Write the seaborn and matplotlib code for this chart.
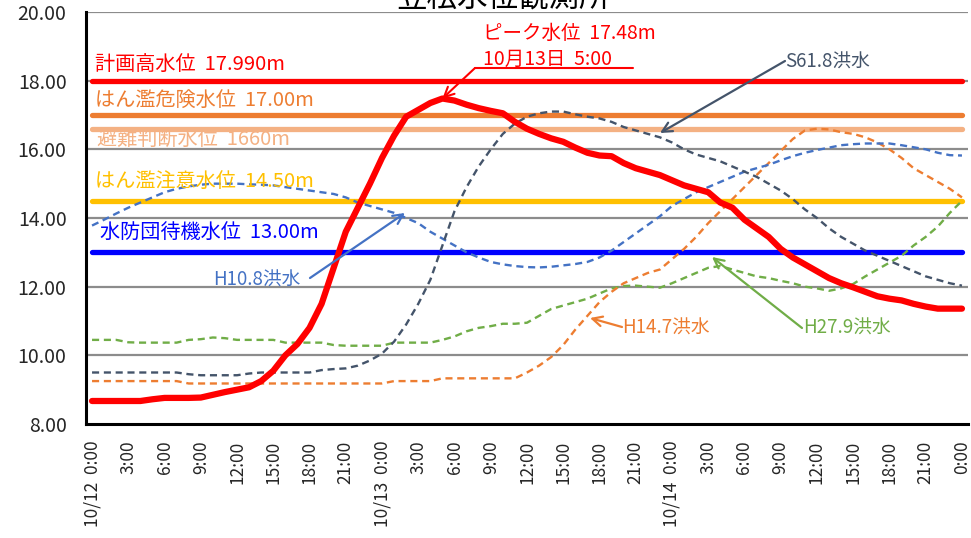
import numpy as np
import pandas as pd
import matplotlib
matplotlib.use("Agg")
import matplotlib.pyplot as plt
import seaborn as sns

# ---------------- data ----------------
hours = list(range(73))  # 10/12 0:00 ... 10/15 0:00, hourly

observed = [8.67, 8.67, 8.67, 8.67, 8.67, 8.72, 8.76, 8.76, 8.76, 8.77,
            8.85, 8.93, 9.00, 9.07, 9.25, 9.55, 10.00, 10.33, 10.80, 11.50,
            12.55, 13.60, 14.30, 15.00, 15.75, 16.40, 16.95, 17.15, 17.35, 17.48,
            17.42, 17.30, 17.20, 17.12, 17.05, 16.80, 16.60, 16.45, 16.32, 16.22,
            16.05, 15.90, 15.82, 15.80, 15.60, 15.45, 15.35, 15.25, 15.10, 14.95,
            14.85, 14.75, 14.45, 14.30, 13.95, 13.70, 13.45, 13.10, 12.85, 12.65,
            12.45, 12.25, 12.10, 11.98, 11.85, 11.72, 11.65, 11.60, 11.50, 11.42,
            11.36, 11.36, 11.36]

s61_8 = [9.50, 9.50, 9.50, 9.50, 9.50, 9.50, 9.50, 9.50, 9.45, 9.42,
         9.42, 9.42, 9.42, 9.47, 9.50, 9.50, 9.50, 9.50, 9.50, 9.57,
         9.60, 9.62, 9.70, 9.85, 10.05, 10.40, 10.90, 11.50, 12.20, 13.20,
         14.20, 14.90, 15.50, 16.00, 16.45, 16.75, 16.95, 17.05, 17.10, 17.10,
         17.02, 16.95, 16.90, 16.80, 16.65, 16.55, 16.45, 16.35, 16.20, 16.00,
         15.85, 15.75, 15.65, 15.50, 15.35, 15.20, 15.00, 14.80, 14.55, 14.25,
         14.00, 13.70, 13.45, 13.25, 13.05, 12.90, 12.75, 12.60, 12.45, 12.30,
         12.20, 12.10, 12.03]

h10_8 = [13.78, 13.95, 14.13, 14.30, 14.45, 14.60, 14.75, 14.85, 14.92, 14.97,
         15.00, 15.00, 15.00, 14.98, 14.97, 14.95, 14.90, 14.85, 14.80, 14.75,
         14.70, 14.60, 14.45, 14.35, 14.25, 14.15, 14.00, 13.85, 13.60, 13.40,
         13.20, 13.00, 12.85, 12.72, 12.65, 12.60, 12.57, 12.56, 12.58, 12.62,
         12.66, 12.72, 12.85, 13.05, 13.30, 13.55, 13.80, 14.05, 14.35, 14.55,
         14.75, 14.90, 15.05, 15.20, 15.35, 15.45, 15.55, 15.68, 15.80, 15.90,
         15.98, 16.05, 16.12, 16.15, 16.17, 16.17, 16.17, 16.12, 16.06, 16.00,
         15.90, 15.83, 15.82]

h14_7 = [9.25, 9.25, 9.25, 9.25, 9.25, 9.25, 9.25, 9.25, 9.18, 9.18,
         9.18, 9.18, 9.18, 9.18, 9.18, 9.18, 9.18, 9.18, 9.18, 9.18,
         9.18, 9.18, 9.18, 9.18, 9.18, 9.25, 9.25, 9.25, 9.25, 9.33,
         9.33, 9.33, 9.33, 9.33, 9.33, 9.33, 9.50, 9.70, 9.95, 10.30,
         10.75, 11.15, 11.55, 11.85, 12.10, 12.25, 12.40, 12.50, 12.80, 13.10,
         13.45, 13.85, 14.20, 14.55, 14.90, 15.25, 15.60, 15.95, 16.30, 16.55,
         16.60, 16.58, 16.50, 16.45, 16.35, 16.20, 16.00, 15.75, 15.45, 15.25,
         15.05, 14.85, 14.60]

h27_9 = [10.45, 10.45, 10.45, 10.38, 10.37, 10.37, 10.37, 10.37, 10.45, 10.47,
         10.52, 10.50, 10.45, 10.45, 10.45, 10.45, 10.37, 10.37, 10.37, 10.37,
         10.30, 10.28, 10.28, 10.28, 10.28, 10.37, 10.37, 10.37, 10.37, 10.45,
         10.55, 10.70, 10.80, 10.85, 10.92, 10.92, 10.95, 11.15, 11.35, 11.45,
         11.55, 11.65, 11.80, 11.95, 12.02, 12.03, 12.00, 11.97, 12.10, 12.25,
         12.40, 12.55, 12.60, 12.50, 12.40, 12.30, 12.25, 12.17, 12.10, 12.00,
         11.95, 11.88, 11.95, 12.08, 12.30, 12.50, 12.70, 12.90, 13.20, 13.45,
         13.75, 14.15, 14.50]

level_labels = ["計画高水位  17.990m", "はん濫危険水位  17.00m", "避難判断水位  1660m",
                "はん濫注意水位  14.50m", "水防団待機水位  13.00m"]
level_values = [17.99, 17.00, 16.60, 14.50, 13.00]

peak_label = ["ピーク水位  17.48m", "10月13日  5:00"]
flood_labels = ["S61.8洪水", "H10.8洪水", "H14.7洪水", "H27.9洪水"]

xtick_hours = list(range(0, 73, 3))
xtick_labels = ["10/12  0:00", "3:00", "6:00", "9:00", "12:00", "15:00", "18:00", "21:00",
                "10/13  0:00", "3:00", "6:00", "9:00", "12:00", "15:00", "18:00", "21:00",
                "10/14  0:00", "3:00", "6:00", "9:00", "12:00", "15:00", "18:00", "21:00",
                "0:00"]
ytick_values = [8, 10, 12, 14, 16, 18, 20]
ytick_labels = ["8.00", "10.00", "12.00", "14.00", "16.00", "18.00", "20.00"]
title = "笠松水位観測所"

# ---------------- styles ----------------
sns.set_style("white")
FONT = ["Noto Sans CJK JP", "DejaVu Sans"]
plt.rcParams["font.family"] = FONT

level_colors = ["#FF0000", "#ED7D31", "#F4B183", "#FFC000", "#0000FF"]
c_obs = "#FF0000"
c_s61 = "#44546A"
c_h10 = "#4472C4"
c_h14 = "#ED7D31"
c_h27 = "#70AD47"

W, H = 971, 538
fig = plt.figure(figsize=(W / 100, H / 100), dpi=100)
L, R, T, B = 86, 968, 12, 424
ax = fig.add_axes([L / W, 1 - B / H, (R - L) / W, (B - T) / H])

df = pd.DataFrame({"hour": hours, "observed": observed, "s61": s61_8,
                   "h10": h10_8, "h14": h14_7, "h27": h27_9})

# grid lines
for v in ytick_values[1:]:
    ax.axhline(v, color="#8C8C8C", lw=1.6, zorder=0.5)

# threshold lines
for v, c in zip(level_values, level_colors):
    ax.plot([hours[0], hours[-1]], [v, v], color=c, lw=3.8,
            solid_capstyle="round", zorder=1)

dash = (0, (3, 2))
for col, c in [("h27", c_h27), ("h14", c_h14), ("h10", c_h10), ("s61", c_s61)]:
    sns.lineplot(data=df, x="hour", y=col, ax=ax, color=c, lw=1.7,
                 linestyle=dash, zorder=2)
sns.lineplot(data=df, x="hour", y="observed", ax=ax, color=c_obs, lw=4.5,
             solid_capstyle="round", solid_joinstyle="round", zorder=3)

ax.set_xlim(-0.5, 72.5)
ax.set_ylim(8, 20)
ax.set_xlabel("")
ax.set_ylabel("")

# axes
for s in ["top", "right"]:
    ax.spines[s].set_visible(False)
for s in ["left", "bottom"]:
    ax.spines[s].set_color("black")
    ax.spines[s].set_linewidth(2.2)
    ax.spines[s].set_zorder(4)

ax.set_yticks(ytick_values)
ax.set_yticklabels(ytick_labels, fontsize=14)
ax.tick_params(axis="y", length=0, pad=14)

ax.set_xticks(xtick_hours)
ax.set_xticklabels(xtick_labels, rotation=90, fontsize=12.5, va="top", ha="center")
ax.set_xticks(np.arange(-0.5, 73, 1), minor=True)
ax.tick_params(axis="x", which="major", length=0, pad=12)
ax.tick_params(axis="x", which="minor", direction="in", length=4, width=1.4, color="black")

# level labels
def px2data(px, py):
    x = (px - L) / ((R - L) / 73.0) - 0.5
    y = 20 - (py - T) / ((B - T) / 12.0)
    return x, y

label_px = [(95, 64), (95, 101), (97, 140), (95, 181), (100, 232)]
for (px, py), txt, c in zip(label_px, level_labels, level_colors):
    x, y = px2data(px, py)
    ax.text(x, y, txt, color=c, fontsize=14.5, ha="left", va="center", zorder=5)

# peak annotation
x, y = px2data(483, 33)
ax.text(x, y, peak_label[0], color=c_obs, fontsize=14, ha="left", va="center", zorder=5)
x, y = px2data(483, 59)
ax.text(x, y, peak_label[1], color=c_obs, fontsize=14, ha="left", va="center", zorder=5)
peak_i = int(np.argmax(observed))
x0, y0 = px2data(475, 68)
x1, _ = px2data(633, 68)
ax.plot([x0, x1], [y0, y0], color=c_obs, lw=1.5, zorder=5)
ax.annotate("", xy=(hours[peak_i], observed[peak_i]), xytext=(x0, y0),
            arrowprops=dict(arrowstyle="->,head_length=0.7,head_width=0.35",
                            color=c_obs, lw=1.5, shrinkA=0, shrinkB=0), zorder=5)

# flood annotations
ann = [
    (flood_labels[0], c_s61, (785, 62), (785, 61), (660, 133), "left"),
    (flood_labels[1], c_h10, (213, 280), (310, 278), (405, 213), "left"),
    (flood_labels[2], c_h14, (622, 328), (622, 327), (590, 318), "left"),
    (flood_labels[3], c_h27, (803, 328), (802, 328), (712, 257), "left"),
]
for txt, c, tp, ap, hp, ha in ann:
    tx, ty = px2data(*tp)
    ax.text(tx, ty, txt, color=c, fontsize=13.5, ha=ha, va="center", zorder=5)
    ax.annotate("", xy=px2data(*hp), xytext=px2data(*ap),
                arrowprops=dict(arrowstyle="->,head_length=0.7,head_width=0.35",
                                color=c, lw=1.6, shrinkA=0, shrinkB=0), zorder=5)

fig.text(503 / W, 1 - 14 / H, title, fontsize=22, ha="center", va="bottom", color="black")

fig.savefig("out.png", dpi=100)
